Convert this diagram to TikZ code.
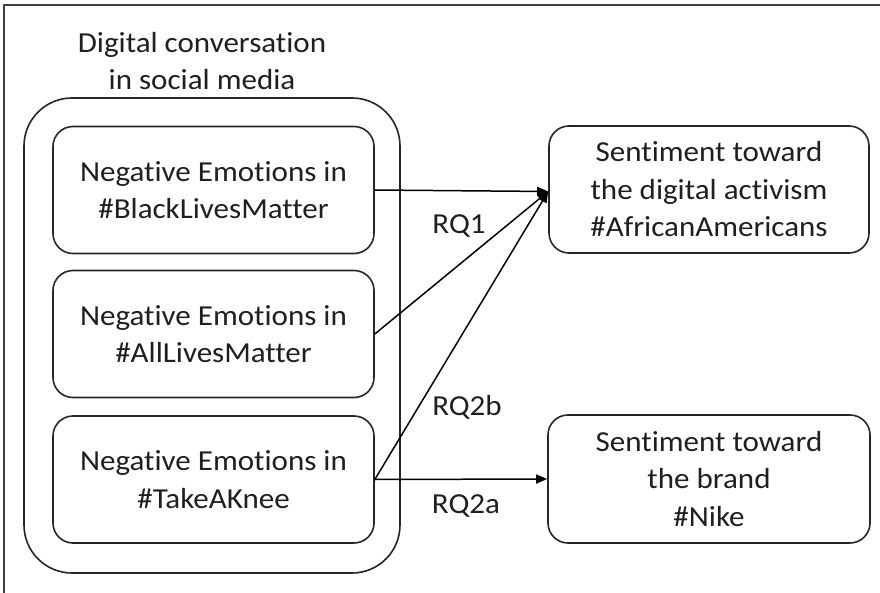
\documentclass[tikz,border=0pt]{standalone}
\usepackage{fontspec}
\setmainfont[FakeStretch=1.07,Ligatures={NoCommon}]{Carlito}
\usetikzlibrary{arrows.meta,calc}
\begin{document}
\begin{tikzpicture}[x=1pt,y=-1pt,
  every node/.style={font=\fontsize{29}{37.5}\selectfont, text=black!88, inner sep=0pt},
  box/.style={draw=black!85, line width=1.6pt, rounded corners=20pt, align=center,
    minimum width=321pt, minimum height=127pt},
  bigbox/.style={draw=black!85, line width=1.6pt, rounded corners=48pt,
    minimum width=376pt, minimum height=475pt},
  conn/.style={draw=black, line width=1.5pt, -{Triangle[length=11pt,width=9pt]}},
  lbl/.style={anchor=center}]
\useasboundingbox (0,0) rectangle (880,593);
\draw[black!75, line width=1.8pt] (880,5) -- (4,5) -- (4,593);
\node[bigbox] (outer) at (212,335.5) {};
\node[align=center] (title) at (202,61) {Digital conversation\\in social media};
\node[box] (b1) at (213.5,190) {Negative Emotions in\\\#BlackLivesMatter};
\node[box] (b2) at (213.5,334) {Negative Emotions in\\\#AllLivesMatter};
\node[box] (b3) at (213.5,479.5) {Negative Emotions in\\\#TakeAKnee};
\node[box, minimum width=320pt] (r1) at (709,189.5) {Sentiment toward\\the digital activism\\\#AfricanAmericans};
\node[box, minimum width=322pt, minimum height=128pt] (r2) at (709,479) {Sentiment toward\\the brand\\\#Nike};
\coordinate (tip) at ($(r1.west)+(0,2)$);
\draw[conn] (b1.east) -- (tip);
\draw[conn] (b2.east) -- (tip);
\draw[conn] (b3.east) -- (tip);
\draw[conn] (b3.east) -- (r2.west);
\node[lbl] (q1) at (459,226) {RQ1};
\node[lbl] (q2b) at (467,407) {RQ2b};
\node[lbl] (q2a) at (466,506) {RQ2a};
\end{tikzpicture}
\end{document}
